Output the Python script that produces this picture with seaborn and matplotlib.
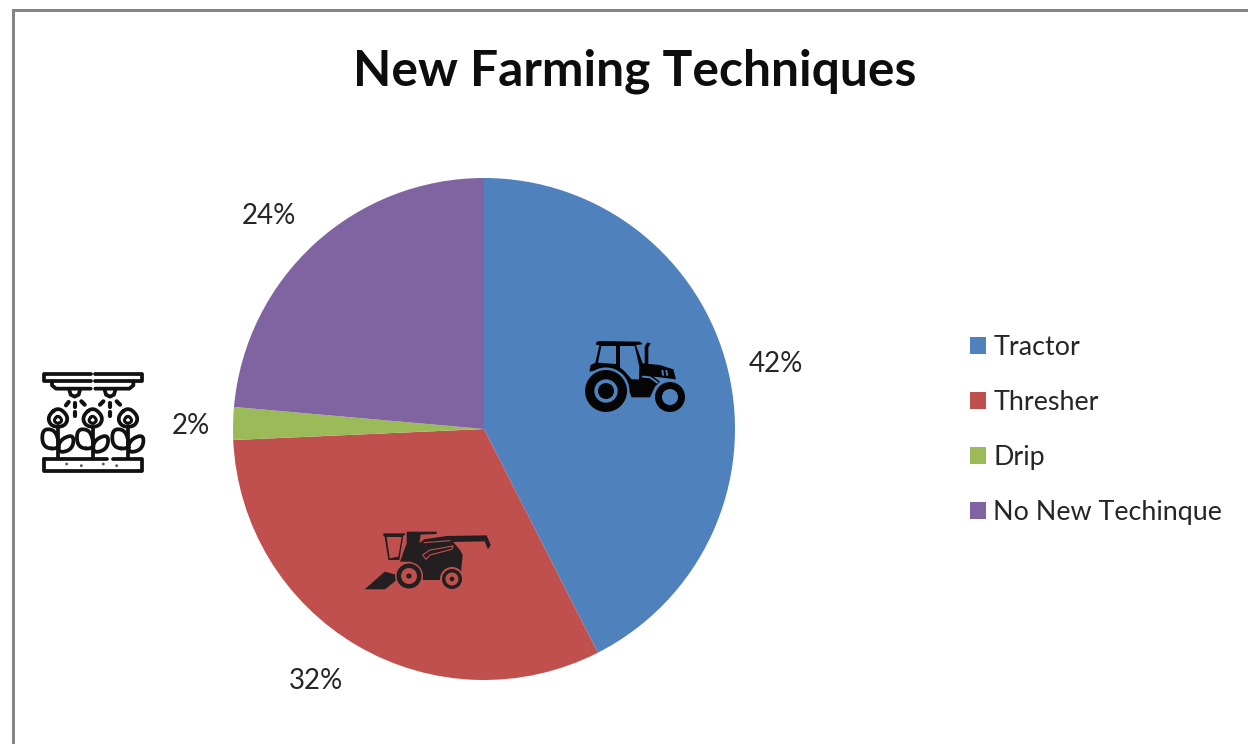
import matplotlib
matplotlib.use("Agg")
import matplotlib.pyplot as plt
import seaborn as sns
from matplotlib.patches import Polygon, Circle, Rectangle

categories = ["Tractor", "Thresher", "Drip", "No New Techinque"]
values = [42.5, 31.8, 2.1, 23.6]
pct_labels = ["42%", "32%", "2%", "24%"]
colors = ["#4F81BD", "#C0504D", "#9BBB59", "#8064A2"]
title = "New Farming Techniques"

sns.set_theme(style="white")
plt.rcParams["font.family"] = ["Lato", "DejaVu Sans"]

W, H = 1248, 744
fig = plt.figure(figsize=(W / 100, H / 100), dpi=100, facecolor="white")

# pie: centre (484, 429), radius 251 px
cx, cy, R = 484, 429, 251
ax = fig.add_axes([(cx - R) / W, 1 - (cy + R) / H, 2 * R / W, 2 * R / H])
wedges, _ = ax.pie(values, colors=colors, startangle=90, counterclock=False, radius=1,
                   wedgeprops=dict(linewidth=0))
ax.set_xlim(-1, 1)
ax.set_ylim(-1, 1)
ax.set_aspect("equal")

# overlay in pixel coordinates for frame, text and pictograms
ov = fig.add_axes([0, 0, 1, 1], zorder=5)
ov.set_xlim(0, W)
ov.set_ylim(H, 0)
ov.axis("off")
ov.patch.set_alpha(0)

frame = "#858585"
ov.add_patch(Rectangle((11.5, 9), W, 3, fc=frame, ec="none"))
ov.add_patch(Rectangle((11.5, 9), 3, H, fc=frame, ec="none"))

ov.text(634.5, 71, title, ha="center", va="center", fontsize=35.8, fontweight="bold", color="#0D0D0D")

label_pos = [(776, 364), (316, 681), (191, 426), (269, 216)]
for t, (x, y) in zip(pct_labels, label_pos):
    ov.text(x, y, t, ha="center", va="center", fontsize=20, color="#262626")

leg = fig.legend(wedges, categories, loc="upper left",
                 bbox_to_anchor=(970 / W, 1 - 335 / H), frameon=False,
                 fontsize=19.4, handlelength=0.6, handleheight=0.6,
                 handletextpad=0.26, labelspacing=1.11, borderpad=0, borderaxespad=0,
                 labelcolor="#262626")
leg.set_zorder(6)


# ---------- tractor pictogram (coordinates from a 3x crop at 560,320)
def tz(p):
    return [(560 + x / 3, 320 + y / 3) for x, y in p]

K = "#050505"
B = colors[0]
ov.add_patch(Polygon(tz([(108, 68), (115, 63), (240, 65), (248, 72), (240, 74), (228, 75), (248, 130),
                         (300, 135), (340, 148), (348, 178), (300, 172), (280, 170), (300, 185), (285, 200),
                         (270, 232), (215, 232), (200, 195), (175, 165), (140, 150), (105, 152), (88, 155),
                         (92, 135), (106, 128), (118, 76), (108, 74)]), fc=K, ec="none"))
ov.add_patch(Polygon(tz([(124, 78), (168, 78), (168, 132), (114, 128)]), fc=B, ec="none"))
ov.add_patch(Polygon(tz([(180, 78), (224, 78), (238, 140), (237, 178), (215, 178), (195, 155), (180, 142)]), fc=B, ec="none"))
ov.add_patch(Polygon(tz([(254, 132), (254, 80), (262, 67), (272, 70), (265, 82), (265, 132)]), fc=K, ec="none"))
ov.add_patch(Polygon(tz([(304, 150), (310, 150), (312, 167), (307, 167)]), fc=B, ec="none"))
ov.add_patch(Polygon(tz([(316, 150), (321, 150), (325, 167), (319, 167)]), fc=B, ec="none"))
ov.plot(*zip(*tz([(248, 170), (270, 172), (292, 188)])), color=B, lw=1.4)
for (x, y), r, c in [((606, 391), 23.5, B), ((606, 391), 21, K), ((606, 391), 11.7, B), ((606, 391), 8, K),
                     ((670, 397), 17, B), ((670, 397), 15, K), ((670, 397), 8, B)]:
    ov.add_patch(Circle((x, y), r, fc=c, ec="none"))


# ---------- combine pictogram (crop at 350,510)
def cz(p):
    return [(350 + x / 3, 510 + y / 3) for x, y in p]

D = "#231F20"
C = colors[1]
ov.add_patch(Polygon(cz([(170, 65), (260, 65), (260, 72), (212, 74), (208, 100), (222, 88), (290, 78), (410, 76),
                         (422, 105), (414, 118), (404, 94), (310, 96), (330, 120), (338, 135), (335, 165),
                         (332, 205), (280, 210), (218, 210), (208, 172), (180, 155), (155, 155), (150, 155),
                         (170, 100)]), fc=D, ec="none"))
ov.add_patch(Polygon(cz([(100, 70), (165, 70), (165, 76), (160, 76), (148, 150), (115, 150), (104, 80), (100, 78)]), fc=D, ec="none"))
ov.add_patch(Polygon(cz([(110, 81), (155, 81), (145, 140), (119, 145)]), fc=C, ec="none"))
ov.add_patch(Polygon(cz([(44, 238), (104, 185), (142, 195), (140, 210), (105, 238)]), fc=D, ec="none"))
ov.plot(*zip(*cz([(222, 98), (300, 92)])), color=C, lw=0.8)
ov.add_patch(Polygon(cz([(218, 135), (240, 120), (310, 108), (305, 118), (240, 135), (228, 148)]), fc="none", ec=C, lw=0.8))
for (x, y), rs in [((409, 576), (14, 12.5, 8, 2.6)), ((452, 579), (12, 10, 6.5, 2.3))]:
    for r, c in zip(rs, [C, D, C, D]):
        ov.add_patch(Circle((x, y), r, fc=c, ec="none"))


# ---------- drip irrigation pictogram (crop at 30,360)
def dz(p):
    return [(30 + x / 3, 360 + y / 3) for x, y in p]

def ol(p, lw=2.7, color="#111111"):
    ov.plot(*zip(*dz(p)), color=color, lw=lw, solid_capstyle="round", solid_joinstyle="round")

def rounded(p, n=3):
    # corner-cutting so that the leaf outlines come out round
    pts = list(p)
    for _ in range(n):
        out = []
        for i in range(len(pts)):
            a, b = pts[i], pts[(i + 1) % len(pts)]
            out.append((0.75 * a[0] + 0.25 * b[0], 0.75 * a[1] + 0.25 * b[1]))
            out.append((0.25 * a[0] + 0.75 * b[0], 0.25 * a[1] + 0.75 * b[1]))
        pts = out
    return pts + [pts[0]]

# pipe
ol([(182, 42), (42, 42), (42, 62), (182, 62)])
ol([(196, 42), (336, 42), (336, 62), (196, 62)])
ol([(66, 64), (66, 76), (78, 86), (182, 86)])
ol([(196, 86), (298, 86), (310, 76), (310, 64)])
ol([(118, 90), (122, 104), (134, 110), (146, 104), (150, 90)])
ol([(224, 90), (228, 104), (240, 110), (252, 104), (256, 90)])
# drops
for a, b in [((108, 136), (116, 126)), ((134, 128), (134, 140)), ((154, 124), (164, 134)), ((134, 156), (134, 168)),
             ((210, 134), (220, 124)), ((240, 128), (240, 140)), ((260, 124), (270, 134)), ((240, 156), (240, 168))]:
    ol([a, b], lw=3.0)
# plants
for px in (84, 188, 294):
    ol(rounded([(px, 140), (px - 32, 170), (px - 20, 200), (px + 20, 200), (px + 32, 170)]))
    ol(rounded([(px, 165), (px - 14, 182), (px, 192), (px + 14, 182)], 2), lw=2.2)
    ol([(px, 198), (px, 292)])
    ol(rounded([(px, 268), (px - 46, 262), (px - 48, 208), (px - 12, 208), (px + 2, 240)]))
    ol(rounded([(px, 280), (px + 4, 240), (px + 48, 222), (px + 44, 268)]))
# bed
ol([(42, 296), (230, 296)])
ol([(250, 296), (336, 296), (336, 334), (42, 334), (42, 296)])
for x, y in [(110, 312), (154, 317), (220, 312), (260, 317)]:
    px_, py_ = dz([(x, y)])[0]
    ov.add_patch(Circle((px_, py_), 1.4, fc="#555555", ec="none"))

fig.savefig("out.png", dpi=100, facecolor="white")
